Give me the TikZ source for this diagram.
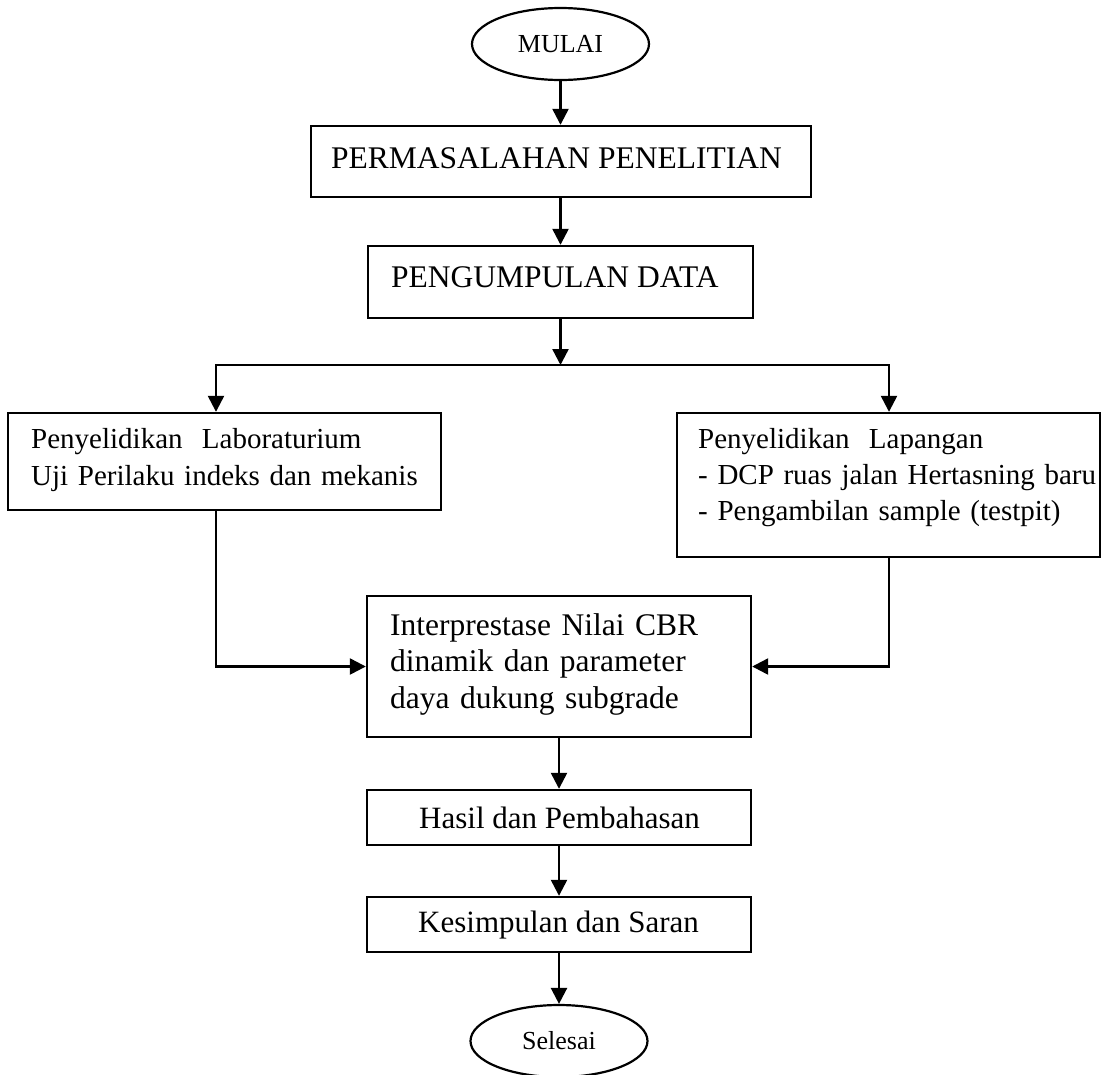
\documentclass[tikz,border=0pt]{standalone}
\usepackage{fontspec}
\setmainfont{Liberation Serif}
\usetikzlibrary{shapes.geometric,arrows.meta}
\begin{document}
\begin{tikzpicture}[x=1pt,y=-1pt,
  line width=2.4pt,
  box/.style={draw, rectangle, inner sep=0pt, line width=2.4pt},
  term/.style={draw, ellipse, inner sep=0pt, minimum width=177pt, minimum height=72pt, line width=2.2pt, font=\fontsize{26}{30}\selectfont},
  txt/.style={anchor=base west, inner sep=0pt, align=left},
  arr/.style={-{Triangle[length=16pt,width=16pt]}, line width=2.4pt}]
\useasboundingbox (0,0) rectangle (1102,1074);
\clip (0,0) rectangle (1102,1074);
\fill[white] (0,0) rectangle (1102,1074);

% terminals
\node[term] (mulai) at (560.5,44) {MULAI};
\node[term] (selesai) at (559,1041) {Selesai};

% boxes
\node[box, minimum width=500pt, minimum height=71pt] (perm) at (561,161.5) {};
\node[box, minimum width=385pt, minimum height=72pt] (peng) at (560.5,282) {};
\node[box, minimum width=433pt, minimum height=97pt] (lab) at (224.5,461.5) {};
\node[box, minimum width=423pt, minimum height=144pt] (lap) at (888.5,485) {};
\node[box, minimum width=384pt, minimum height=141pt] (cbr) at (559,666.5) {};
\node[box, minimum width=384pt, minimum height=55pt] (hasil) at (559,817.5) {};
\node[box, minimum width=384pt, minimum height=55pt] (kes) at (559,924.5) {};

% texts
\node[txt, font=\fontsize{31.5}{36}\selectfont] (tperm) at (330,168) {PERMASALAHAN PENELITIAN};
\node[txt, font=\fontsize{31.5}{36}\selectfont] (tpeng) at (390,287) {PENGUMPULAN DATA};
\node[txt, font=\fontsize{29}{37}\selectfont, text width=420pt] (tlab) at (30,448) {Penyelidikan\ \ Laboraturium\\Uji Perilaku indeks dan mekanis};
\node[txt, font=\fontsize{29}{36}\selectfont, text width=400pt] (tlap) at (697,448) {Penyelidikan\ \ Lapangan\\- DCP ruas jalan Hertasning baru\\- Pengambilan sample (testpit)};
\node[txt, font=\fontsize{31.5}{36.5}\selectfont, text width=360pt] (tcbr) at (389,635) {Interprestase Nilai CBR\\dinamik dan parameter\\daya dukung subgrade};
\node[txt, font=\fontsize{31}{36}\selectfont] (thasil) at (418,828) {Hasil dan Pembahasan};
\node[txt, font=\fontsize{31}{36}\selectfont] (tkes) at (417,932) {Kesimpulan dan Saran};

% connectors
\coordinate (j) at (560,365);
\coordinate (jl) at (216,365);
\coordinate (jr) at (889,365);
\draw[arr] (mulai.south) -- (mulai.south |- perm.north);
\draw[arr] (perm.south -| peng.north) -- (peng.north);
\draw[arr] (peng.south) -- (peng.south |- j);
\draw[line cap=rect] (jl) -- (jr);
\draw[arr] (jl) -- (jl |- lab.north);
\draw[arr] (jr) -- (jr |- lap.north);
\draw[arr] (jl |- lab.south) |- (cbr.west);
\draw[arr] (jr |- lap.south) |- (cbr.east);
\draw[arr] (cbr.south) -- (hasil.north);
\draw[arr] (hasil.south) -- (kes.north);
\draw[arr] (kes.south) -- (selesai.north);
\end{tikzpicture}
\end{document}
